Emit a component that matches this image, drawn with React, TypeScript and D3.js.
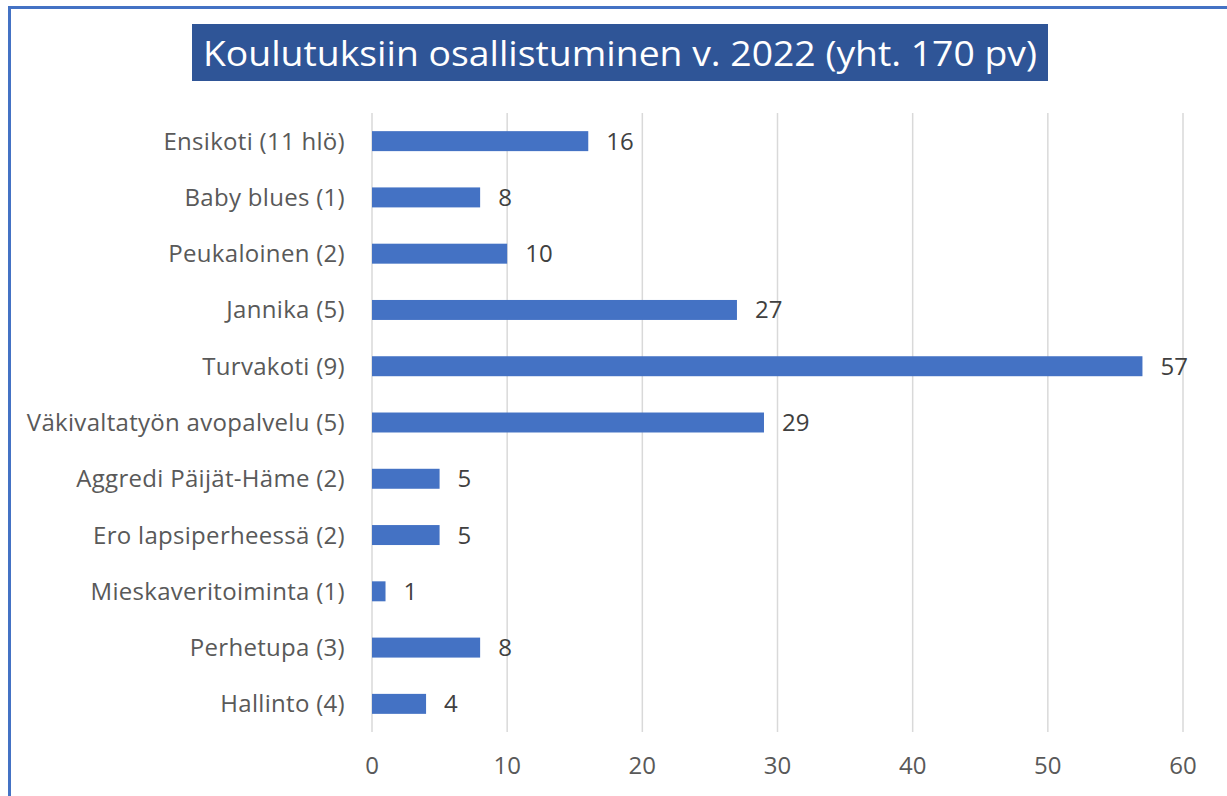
import React from "react";
import * as d3 from "d3";

const categories = [
  "Ensikoti (11 hlö)",
  "Baby blues (1)",
  "Peukaloinen (2)",
  "Jannika (5)",
  "Turvakoti (9)",
  "Väkivaltatyön avopalvelu (5)",
  "Aggredi Päijät-Häme (2)",
  "Ero lapsiperheessä (2)",
  "Mieskaveritoiminta (1)",
  "Perhetupa (3)",
  "Hallinto (4)",
];
const values = [16, 8, 10, 27, 57, 29, 5, 5, 1, 8, 4];
const xTicks = [0, 10, 20, 30, 40, 50, 60];
const title = "Koulutuksiin osallistuminen v. 2022 (yht. 170 pv)";

const W = 1227;
const H = 796;
const FONT = "'Open Sans', 'Noto Sans', sans-serif";

export default function App() {
  const x = d3.scaleLinear().domain([0, 60]).range([372, 1183]);
  const y = d3
    .scaleBand<string>()
    .domain(categories)
    .range([113, 732])
    .paddingInner(0.645)
    .paddingOuter(0.3225);

  return (
    <svg
      width={W}
      height={H}
      style={{ position: "absolute", left: 0, top: 0, background: "#fff" }}
    >
      <rect x={0} y={0} width={W} height={H} fill="#fff" />
      {/* frame */}
      <rect x={9.5} y={7.5} width={W + 20} height={H + 20} fill="none" stroke="#4472C4" strokeWidth={3} />
      {/* title */}
      <rect x={192} y={24} width={856} height={57} fill="#2F5597" />
      <text
        x={203}
        y={66}
        textAnchor="start"
        fill="#fff"
        fontFamily={FONT}
        fontSize={34}
        textLength={834}
        lengthAdjust="spacingAndGlyphs"
      >
        {title}
      </text>
      {/* gridlines */}
      {xTicks.map((t) => (
        <line
          key={"g" + t}
          x1={x(t)}
          x2={x(t)}
          y1={113}
          y2={732}
          stroke="#D9D9D9"
          strokeWidth={1.5}
        />
      ))}
      {/* tick labels */}
      {xTicks.map((t) => (
        <text
          key={"t" + t}
          x={x(t)}
          y={774}
          textAnchor="middle"
          fill="#595959"
          fontFamily={FONT}
          fontSize={24}
        >
          {t}
        </text>
      ))}
      {/* bars */}
      {categories.map((c, i) => {
        const by = y(c)!;
        const bh = y.bandwidth();
        const cy = by + bh / 2;
        return (
          <g key={c}>
            <rect x={x(0)} y={by} width={x(values[i]) - x(0)} height={bh} fill="#4472C4" />
            <text
              x={345}
              y={cy + 8.5}
              textAnchor="end"
              fill="#595959"
              fontFamily={FONT}
              fontSize={24}
              letterSpacing={0.3}
            >
              {c}
            </text>
            <text
              x={x(values[i]) + 18}
              y={cy + 8.5}
              textAnchor="start"
              fill="#404040"
              fontFamily={FONT}
              fontSize={24}
            >
              {values[i]}
            </text>
          </g>
        );
      })}
    </svg>
  );
}
